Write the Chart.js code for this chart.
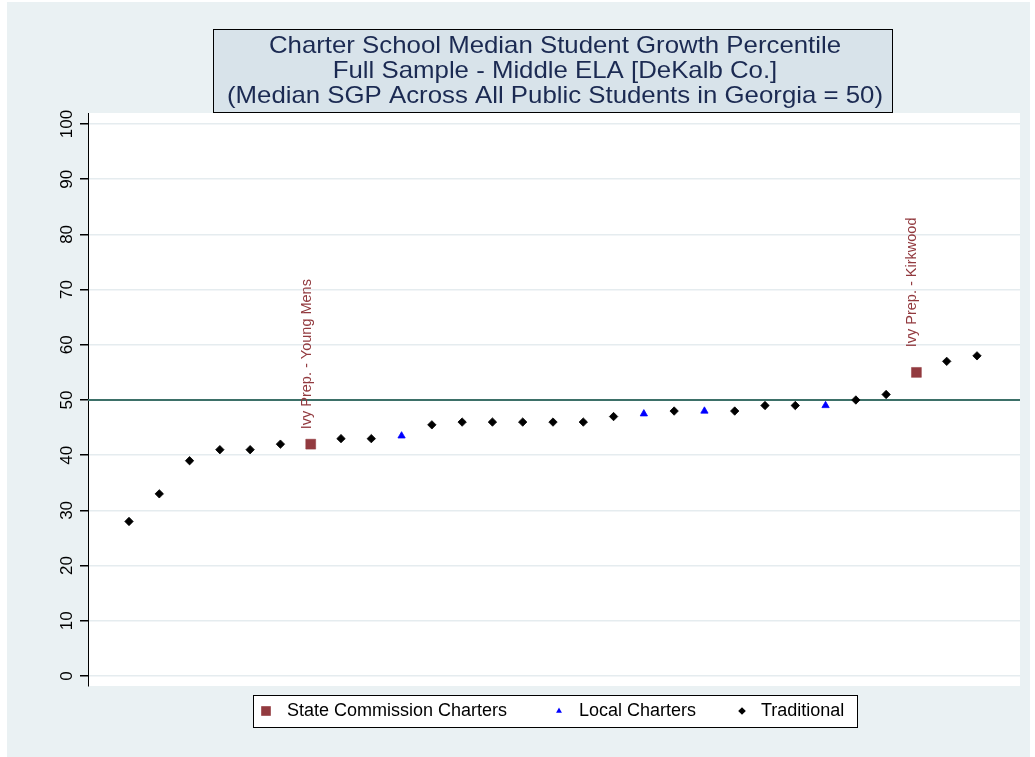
<!DOCTYPE html>
<html>
<head>
<meta charset="utf-8">
<title>Charter School Median Student Growth Percentile</title>
<script src="https://cdn.jsdelivr.net/npm/chart.js"></script>
<style>
  html, body { margin: 0; padding: 0; background: #fff; }
  #wrap { width: 1035px; height: 757px; }
  canvas { display: block; }
</style>
</head>
<body>
<div id="wrap"><canvas id="chart" width="1035" height="757"></canvas></div>
<script>
// --- Data ---
const titleLines = [
  'Charter School Median Student Growth Percentile',
  'Full Sample - Middle ELA [DeKalb Co.]',
  '(Median SGP Across All Public Students in Georgia = 50)'
];
const yTicks = [0, 10, 20, 30, 40, 50, 60, 70, 80, 90, 100];
const stateMedian = 50;

// schools ranked left to right by median SGP
const stateRank = [7, 27];
const stateSgp = [42, 55];
const stateNames = ['Ivy Prep. - Young Mens', 'Ivy Prep. - Kirkwood'];

const localRank = [10, 18, 20, 24];
const localSgp = [43.5, 47.5, 48, 49];

const tradRank = [1, 2, 3, 4, 5, 6, 8, 9, 11, 12, 13, 14, 15, 16, 17, 19, 21, 22, 23, 25, 26, 28, 29];
const tradSgp = [28, 33, 39, 41, 41, 42, 43, 43, 45.5, 46, 46, 46, 46, 46, 47, 48, 48, 49, 49, 50, 51, 57, 58];

const legendLabels = ['State Commission Charters', 'Local Charters', 'Traditional'];

// Colours / fonts
const FONT = '"Liberation Sans", Arial, Helvetica, sans-serif';
const stateColor = '#923a3f';
const localColor = '#0000ff';
const tradColor = '#000000';
const outerBg = '#eaf1f3';
const titleFill = '#d8e3ea';
const titleColor = '#1b2a52';
const gridColor = '#e5ecef';
const refColor = '#3d7068';

const toPoints = (xs, ys) => xs.map((x, i) => ({ x, y: ys[i] }));

// --- Plugins ---
const backgroundPlugin = {
  id: 'background',
  beforeDraw(chart) {
    const { ctx, chartArea } = chart;
    ctx.save();
    ctx.fillStyle = '#ffffff';
    ctx.fillRect(0, 0, chart.width, chart.height);
    ctx.fillStyle = outerBg;
    ctx.fillRect(7, 2, 1023, 755);
    ctx.fillStyle = '#ffffff';
    ctx.fillRect(chartArea.left, chartArea.top, chartArea.right - chartArea.left, chartArea.bottom - chartArea.top);
    ctx.restore();
  }
};

const refLinePlugin = {
  id: 'refLine',
  beforeDatasetsDraw(chart) {
    const { ctx, chartArea, scales } = chart;
    const y = scales.y.getPixelForValue(stateMedian);
    ctx.save();
    ctx.strokeStyle = refColor;
    ctx.lineWidth = 2;
    ctx.beginPath();
    ctx.moveTo(chartArea.left, y);
    ctx.lineTo(chartArea.right, y);
    ctx.stroke();
    ctx.restore();
  }
};

const decorPlugin = {
  id: 'decor',
  afterDraw(chart) {
    const { ctx, scales } = chart;
    ctx.save();

    // y tick labels, rotated
    ctx.fillStyle = '#000';
    ctx.font = '17px ' + FONT;
    ctx.textAlign = 'center';
    ctx.textBaseline = 'middle';
    scales.y.ticks.forEach(t => {
      const py = scales.y.getPixelForValue(t.value);
      ctx.save();
      ctx.translate(67, py);
      ctx.rotate(-Math.PI / 2);
      ctx.fillText(String(t.value), 0, 0);
      ctx.restore();
    });

    // marker labels for state charters
    ctx.fillStyle = stateColor;
    ctx.font = '14.5px ' + FONT;
    stateRank.forEach((r, i) => {
      const px = scales.x.getPixelForValue(r);
      const py = scales.y.getPixelForValue(stateSgp[i]);
      ctx.save();
      ctx.translate(px - 4, py - 90);
      ctx.rotate(-Math.PI / 2);
      ctx.fillText(stateNames[i], 0, 0);
      ctx.restore();
    });

    // title box
    ctx.fillStyle = titleFill;
    ctx.fillRect(213, 29, 679, 83);
    ctx.strokeStyle = '#000';
    ctx.lineWidth = 1;
    ctx.strokeRect(213.5, 29.5, 679, 83);
    ctx.fillStyle = titleColor;
    ctx.font = '24px ' + FONT;
    titleLines.forEach((line, i) => {
      ctx.save();
      ctx.translate(555, 46 + i * 25);
      ctx.scale(1.075, 1);   // reference title is a little wider than plain Arial
      ctx.fillText(line, 0, 0);
      ctx.restore();
    });

    // legend box
    ctx.fillStyle = '#fff';
    ctx.fillRect(253, 695, 604, 32);
    ctx.strokeRect(253.5, 695.5, 604, 32);
    const markers = [
      { pointStyle: 'rect', radius: 6.8, color: stateColor, x: 266, tx: 287 },
      { pointStyle: 'triangle', radius: 3.4, color: localColor, x: 559, tx: 579 },
      { pointStyle: 'rectRot', radius: 3.8, color: tradColor, x: 742, tx: 761 }
    ];
    ctx.font = '18px ' + FONT;
    ctx.textAlign = 'left';
    markers.forEach((m, i) => {
      ctx.fillStyle = m.color;
      Chart.helpers.drawPoint(ctx, { pointStyle: m.pointStyle, radius: m.radius, rotation: 0, borderWidth: 0 }, m.x, 711);
      ctx.fillStyle = '#000';
      ctx.fillText(legendLabels[i], m.tx, 711);
    });

    ctx.restore();
  }
};

// --- Chart ---
new Chart(document.getElementById('chart').getContext('2d'), {
  type: 'scatter',
  data: {
    datasets: [
      {
        label: legendLabels[0],
        data: toPoints(stateRank, stateSgp),
        pointStyle: 'rect',
        pointRadius: 7,
        backgroundColor: stateColor,
        borderColor: stateColor,
        borderWidth: 0.5
      },
      {
        label: legendLabels[1],
        data: toPoints(localRank, localSgp),
        pointStyle: 'triangle',
        pointRadius: 4.2,
        backgroundColor: localColor,
        borderColor: localColor,
        borderWidth: 0.8
      },
      {
        label: legendLabels[2],
        data: toPoints(tradRank, tradSgp),
        pointStyle: 'rectRot',
        pointRadius: 4.2,
        backgroundColor: tradColor,
        borderColor: tradColor,
        borderWidth: 0.8
      }
    ]
  },
  options: {
    responsive: false,
    devicePixelRatio: 1,
    animation: false,
    events: [],
    layout: { padding: { left: 48, top: 113, right: 15, bottom: 71 } },
    plugins: {
      legend: { display: false },
      tooltip: { enabled: false },
      title: { display: false }
    },
    scales: {
      x: {
        type: 'linear',
        display: false,
        min: -0.354,
        max: 30.42
      },
      y: {
        type: 'linear',
        min: -1.81,
        max: 101.99,
        afterBuildTicks: (scale) => { scale.ticks = yTicks.map(v => ({ value: v })); },
        afterFit: (scale) => { scale.width = 40; },
        ticks: { display: false },
        grid: { color: gridColor, lineWidth: 1.5, tickColor: '#000', tickLength: 8, drawTicks: true },
        border: { display: true, color: '#000', width: 1 }
      }
    }
  },
  plugins: [backgroundPlugin, refLinePlugin, decorPlugin]
});
</script>
</body>
</html>
